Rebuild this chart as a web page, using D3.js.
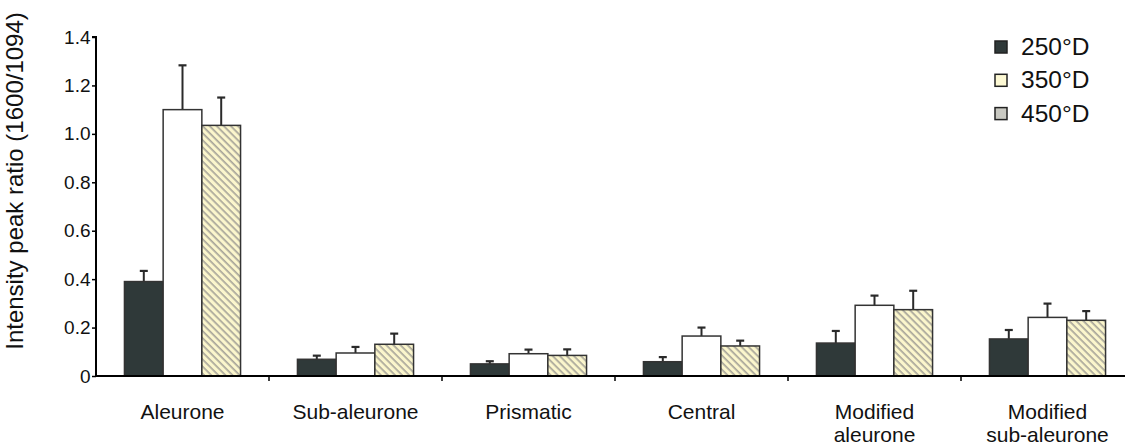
<!DOCTYPE html>
<html><head><meta charset="utf-8">
<script src="https://cdn.jsdelivr.net/npm/d3@7/dist/d3.min.js"></script>
<style>
html,body{margin:0;padding:0;background:#fff;}
text{font-family:"Liberation Sans",Arial,sans-serif;fill:#111;}
</style></head>
<body><svg id="chart" width="1125" height="447"></svg>
<script>
const categories = [["Aleurone"],["Sub-aleurone"],["Prismatic"],["Central"],["Modified","aleurone"],["Modified","sub-aleurone"]];
const seriesNames = ["250°D","350°D","450°D"];
const values250 = [0.39, 0.069, 0.05, 0.059, 0.136, 0.153];
const values350 = [1.10, 0.095, 0.092, 0.165, 0.292, 0.242];
const values450 = [1.035, 0.131, 0.085, 0.124, 0.274, 0.23];
const err250 = [0.044, 0.015, 0.011, 0.019, 0.05, 0.037];
const err350 = [0.183, 0.025, 0.017, 0.035, 0.04, 0.057];
const err450 = [0.115, 0.044, 0.025, 0.022, 0.078, 0.038];
const yTicks = [0, 0.2, 0.4, 0.6, 0.8, 1.0, 1.2, 1.4];
const yTickLabels = ["0","0.2","0.4","0.6","0.8","1.0","1.2","1.4"];

const svg = d3.select("#chart");
const defs = svg.append("defs");
const pat = defs.append("pattern").attr("id","hatch").attr("patternUnits","userSpaceOnUse")
  .attr("width",5).attr("height",5).attr("patternTransform","rotate(45)");
pat.append("rect").attr("width",5).attr("height",5).attr("fill","#fbf6cc");
pat.append("rect").attr("x",0).attr("y",0).attr("width",5).attr("height",1.7).attr("fill","#a9a69a");

const x0 = 96, x1 = 1134, yBase = 376, yTop = 37;
const x = d3.scaleBand().domain(categories.map((c,i)=>i)).range([x0,x1]).padding(0);
const xs = d3.scaleBand().domain([0,1,2]).range([0,x.bandwidth()]).paddingInner(0).paddingOuter(0.735);
const y = d3.scaleLinear().domain([0,1.4]).range([yBase,yTop]);

const fills = ["#2f3939","#ffffff","url(#hatch)"];
const legendFills = ["#2f3939","#fdf9d4","#c9c9c2"];
const vals = [values250, values350, values450];
const errs = [err250, err350, err450];

const data = [];
categories.forEach((c,i)=>{ for(let s=0;s<3;s++) data.push({i,s,v:vals[s][i],e:errs[s][i]}); });

// error bars
const eb = svg.append("g").attr("stroke","#2a2a2a");
data.forEach(d=>{
  const cx = x(d.i)+xs(d.s)+xs.bandwidth()/2;
  eb.append("line").attr("x1",cx).attr("x2",cx).attr("y1",y(d.v)).attr("y2",y(d.v+d.e)).attr("stroke-width",2);
  eb.append("line").attr("x1",cx-4).attr("x2",cx+4).attr("y1",y(d.v+d.e)).attr("y2",y(d.v+d.e)).attr("stroke-width",2.2);
});

// bars
svg.append("g").selectAll("rect").data(data).join("rect")
  .attr("x",d=>x(d.i)+xs(d.s))
  .attr("y",d=>y(d.v))
  .attr("width",xs.bandwidth())
  .attr("height",d=>yBase-y(d.v))
  .attr("fill",d=>fills[d.s])
  .attr("stroke","#333")
  .attr("stroke-width",1.5);

// y axis
const ya = svg.append("g").attr("transform",`translate(${x0},0)`)
  .call(d3.axisLeft(y).tickValues(yTicks).tickFormat((d,i)=>yTickLabels[i]).tickSize(4).tickPadding(1.5));
ya.select(".domain").attr("stroke","#000").attr("stroke-width",2).attr("d",`M-4,${yTop}H0V${yBase}`);
ya.selectAll(".tick line").attr("stroke","#000").attr("stroke-width",1.5);
ya.selectAll(".tick text").attr("font-size",19).attr("font-family","Liberation Sans, Arial, sans-serif").attr("fill","#111");

// x axis
svg.append("line").attr("x1",x0).attr("x2",1125).attr("y1",yBase).attr("y2",yBase).attr("stroke","#000").attr("stroke-width",2);
const xt = svg.append("g");
categories.forEach((c,i)=>{ if(i>0){ xt.append("line").attr("x1",x(i)).attr("x2",x(i)).attr("y1",yBase).attr("y2",yBase+5).attr("stroke","#000").attr("stroke-width",1.5);} });
categories.forEach((c,i)=>{
  const t = svg.append("text").attr("x",x(i)+x.bandwidth()/2).attr("y",419).attr("text-anchor","middle").attr("font-size",21);
  c.forEach((line,k)=>t.append("tspan").attr("x",x(i)+x.bandwidth()/2).attr("dy",k===0?0:22.5).text(line));
});

// y title
svg.append("text").attr("transform","translate(23,181) rotate(-90)").attr("text-anchor","middle")
  .attr("font-size",24).text("Intensity peak ratio (1600/1094)");

// legend
const lg = svg.append("g");
seriesNames.forEach((n,k)=>{
  const ly = 41 + k*33.3;
  lg.append("rect").attr("x",995).attr("y",ly).attr("width",12).attr("height",12).attr("fill",legendFills[k]).attr("stroke","#222").attr("stroke-width",1.5);
  lg.append("text").attr("x",1021).attr("y",ly+14).attr("font-size",24.5).text(n);
});
</script></body></html>
